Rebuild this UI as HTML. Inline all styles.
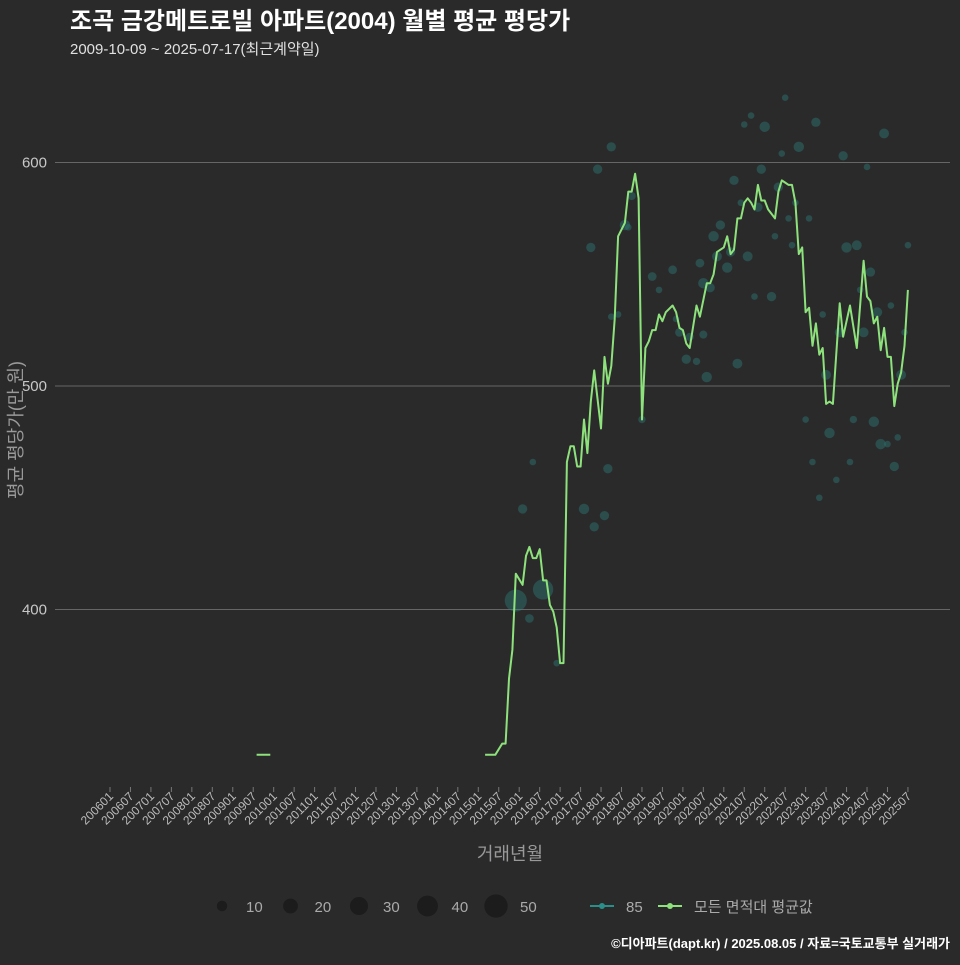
<!DOCTYPE html>
<html><head><meta charset="utf-8"><style>
html,body{margin:0;padding:0;background:#2a2a2b;}
svg text{font-family:"Liberation Sans","Noto Sans CJK KR",sans-serif;}
</style></head><body>
<svg id="chart" width="960" height="960" viewBox="0 0 960 960" xmlns="http://www.w3.org/2000/svg">
<rect x="0" y="0" width="960" height="960" fill="#2a2a2b"/>
<text x="70" y="29" font-size="24" font-weight="bold" fill="#ffffff">조곡 금강메트로빌 아파트(2004) 월별 평균 평당가</text>
<text x="70" y="54" font-size="15" fill="#e0e0e0">2009-10-09 ~ 2025-07-17(최근계약일)</text>
<g id="grid"></g>
<g id="yticks"></g>
<g id="xticks"></g>
<g id="bubbles"></g>
<g id="lines"></g>
<text x="510" y="860" font-size="18" fill="#999" text-anchor="middle">거래년월</text>
<text transform="translate(22,430) rotate(-90)" font-size="18" fill="#999" text-anchor="middle">평균 평당가(만 원)</text>
<g id="legend"></g>
<text x="950" y="948" font-size="13" font-weight="bold" fill="#ffffff" text-anchor="end">©디아파트(dapt.kr) / 2025.08.05 / 자료=국토교통부 실거래가</text>
</svg>
<script>
// month index = months since 2006-01
const yTicks = [400, 500, 600];
const lineMonth = [43,47, 110,113,115,116,117,118,119,121,122,123,124,125,126,127,128,129,130,131,132,133,134,135,136,137,138,139,140,141,142,144,145,146,147,148,149,151,152,153,154,155,156,157,158,159,160,161,162,163,165,166,167,168,169,170,172,173,175,176,177,178,180,181,182,183,184,185,186,187,188,189,190,191,192,193,195,196,197,198,199,200,201,202,203,204,205,206,207,208,209,210,211,212,214,215,217,219,221,222,223,224,225,226,227,228,229,230,231,232,233,234];
const lineValue = [335,335, 335,335,340,340,369,382,416,411,424,428,423,423,427,413,413,402,399,392,376,376,466,473,473,464,464,485,470,493,507,481,513,501,509,530,567,573,587,587,595,584,485,517,520,525,525,532,529,533,536,533,526,525,519,517,536,531,546,546,550,560,562,567,559,561,575,575,582,584,582,579,590,583,583,579,575,587,592,591,590,590,582,559,562,533,535,518,528,514,517,492,493,492,537,522,536,517,556,540,538,528,531,516,526,513,513,491,501,506,518,543];
const bubbleMonth = [119,127,121,124,123,131,139,142,145,146,141,147,143,147,152,153,151,149,156,159,161,165,166,167,170,169,172,174,198,188,186,192,207,227,202,197,215,222,191,183,185,190,196,201,179,177,195,199,205,200,216,219,234,178,187,181,182,173,174,176,189,194,184,223,220,225,229,209,214,221,233,175,210,232,204,218,224,211,226,228,231,206,217,230,213,208];
const bubbleValue = [404,409,445,466,396,376,445,437,442,463,562,531,597,607,571,585,572,532,485,549,543,552,530,524,522,512,511,523,629,621,617,616,618,613,607,604,603,598,597,592,582,580,589,582,572,567,567,575,575,563,562,563,563,558,558,553,560,555,546,544,540,540,510,551,543,533,536,532,524,524,524,504,505,505,485,485,484,479,474,474,477,466,466,464,458,450];
const bubbleCount = [45,38,8,4,7,4,10,8,8,8,8,4,8,8,4,6,10,4,5,7,4,7,4,7,6,8,5,6,4,4,4,10,8,9,10,4,8,4,8,8,4,8,8,4,8,10,4,4,4,4,10,9,4,9,9,10,8,7,10,8,4,8,9,8,4,9,4,4,9,9,4,10,9,9,4,5,10,10,10,4,4,4,4,8,4,4];
const legendSizes = [10,20,30,40,50];

const NS = "http://www.w3.org/2000/svg";
const xPos = m => 110 + m * 3.41;
const yPos = v => 386 - (v - 500) * 2.235;
const rSize = s => 1.65 * Math.sqrt(s);
function mk(tag, attrs, parent){ const e=document.createElementNS(NS,tag); for(const k in attrs) e.setAttribute(k,attrs[k]); parent.appendChild(e); return e; }

const grid=document.getElementById('grid'), yt=document.getElementById('yticks');
yTicks.forEach(v=>{
  const l=mk('line',{x1:55,x2:950,y1:yPos(v),y2:yPos(v),stroke:'#666','stroke-width':1},grid);
  
  
  const t=mk('text',{x:47,y:yPos(v)+5,'font-size':15,fill:'#c8c8c8','text-anchor':'end'},yt);
  t.textContent=v;
  
  
});
const xt=document.getElementById('xticks');
for(let m=0;m<=234;m+=6){
  const yr=2006+Math.floor(m/12), mo=(m%12)+1;
  const lab=''+yr+(mo<10?'0':'')+mo;
  const x=xPos(m);
  const tk=mk('line',{x1:x,x2:x,y1:787,y2:792,stroke:'#777','stroke-width':1},xt);
  
  
  const t=mk('text',{transform:`translate(${x+4},${797}) rotate(-45)`,'font-size':12,fill:'#bbb','text-anchor':'end'},xt);
  t.textContent=lab;
  
  
}
const bg=document.getElementById('bubbles');
bubbleMonth.forEach((m,i)=>{
  const c=mk('circle',{cx:xPos(m),cy:yPos(bubbleValue[i]),r:rSize(bubbleCount[i]),fill:'rgba(45,135,128,0.38)'},bg);
  
  
});
const lg=document.getElementById('lines');
let d='';
lineMonth.forEach((m,i)=>{
  const brk = i===0 || m-lineMonth[i-1]>12;
  d += (brk?'M':'L')+xPos(m).toFixed(1)+','+yPos(lineValue[i]).toFixed(1);
});
const p=mk('path',{d:d,fill:'none',stroke:'#8ee27c','stroke-width':2,'stroke-linejoin':'round'},lg);



const leg=document.getElementById('legend');
legendSizes.forEach((s,i)=>{
  const cx=222+i*68.5;
  const c=mk('circle',{cx:cx,cy:906,r:rSize(s),fill:'#1c1c1c'},leg);
  
  
  const t=mk('text',{x:cx+24,y:912,'font-size':15,fill:'#aaa'},leg);
  t.textContent=s;
  
  
});
[[590,'#2a8f8a','85'],[658,'#8ee27c','모든 면적대 평균값']].forEach(([x,col,lab])=>{
  const l=mk('line',{x1:x,x2:x+24,y1:906,y2:906,stroke:col,'stroke-width':2},leg);
  
  
  const c=mk('circle',{cx:x+12,cy:906,r:3,fill:col},leg);
  
  
  const t=mk('text',{x:x+36,y:912,'font-size':15,fill:'#aaa'},leg);
  t.textContent=lab;
  
  
});
</script>
</body></html>
